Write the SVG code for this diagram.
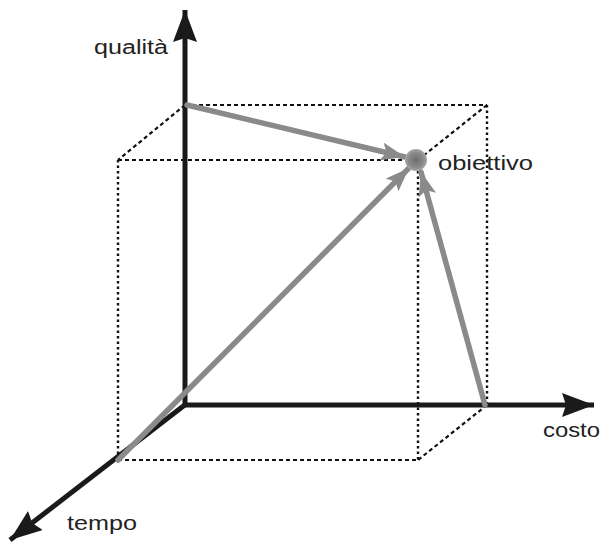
<svg xmlns="http://www.w3.org/2000/svg" width="600" height="542" viewBox="0 0 600 542">
<defs>
<marker id="ah" markerUnits="userSpaceOnUse" markerWidth="34" markerHeight="26" refX="32" refY="12" orient="auto">
<path d="M0,0 L32,12 L0,24 L4,12 Z" fill="#1a1a1a"/>
</marker>
<marker id="gh" markerUnits="userSpaceOnUse" markerWidth="26" markerHeight="20" refX="24" refY="9" orient="auto">
<path d="M0,0 L24,9 L0,18 L5,9 Z" fill="#8a8a8a"/>
</marker>
<radialGradient id="gg"><stop offset="0" stop-color="#6e6e6e"/><stop offset="0.7" stop-color="#8a8a8a"/><stop offset="1" stop-color="#a8a8a8"/></radialGradient>
</defs>
<style>
.ax{stroke:#1a1a1a;stroke-width:5;fill:none}
.dash{stroke:#111;stroke-width:2.2;stroke-dasharray:4 3;fill:none}
.dot{stroke:#111;stroke-width:2.4;stroke-dasharray:2.5 3;fill:none}
.g{stroke:#8a8a8a;stroke-width:5.5;fill:none;stroke-linecap:round}
text{font-family:"Liberation Sans",Arial,sans-serif;font-size:20px;fill:#222}
</style>
<rect width="600" height="542" fill="#fff"/>
<g id="cube">
<line class="dash" x1="185" y1="105" x2="487" y2="105"/>
<line class="dot" x1="487" y1="105" x2="487" y2="405"/>
<line class="dash" x1="185" y1="105" x2="118" y2="160"/>
<line class="dash" x1="487" y1="105" x2="418" y2="160"/>
<line class="dash" x1="487" y1="405" x2="418" y2="460"/>
<line class="dash" x1="118" y1="160" x2="418" y2="160"/>
<line class="dash" x1="118" y1="460" x2="418" y2="460"/>
<line class="dot" x1="118" y1="160" x2="118" y2="460"/>
<line class="dot" x1="418" y1="160" x2="418" y2="460"/>
</g>
<g id="axes">
<line class="ax" x1="185" y1="407" x2="185" y2="10" marker-end="url(#ah)"/>
<line class="ax" x1="183" y1="405" x2="594" y2="405" marker-end="url(#ah)"/>
<line class="ax" x1="186" y1="404" x2="10" y2="540" marker-end="url(#ah)"/>
</g>
<g id="connectors">
<line class="g" x1="187" y1="105" x2="405" y2="157" marker-end="url(#gh)"/>
<line class="g" x1="118" y1="460" x2="409" y2="168" marker-end="url(#gh)"/>
<line class="g" x1="485" y1="405" x2="421" y2="172" marker-end="url(#gh)"/>
</g>
<g id="goal">
<circle cx="416" cy="160" r="11" fill="url(#gg)"/>
<text x="438" y="170" textLength="95" lengthAdjust="spacingAndGlyphs">obiettivo</text>
</g>
<g id="labels">
<text x="94" y="54" textLength="74" lengthAdjust="spacingAndGlyphs">qualità</text>
<text x="543" y="437" textLength="57" lengthAdjust="spacingAndGlyphs">costo</text>
<text x="67" y="530" textLength="70" lengthAdjust="spacingAndGlyphs">tempo</text>
</g>
</svg>
